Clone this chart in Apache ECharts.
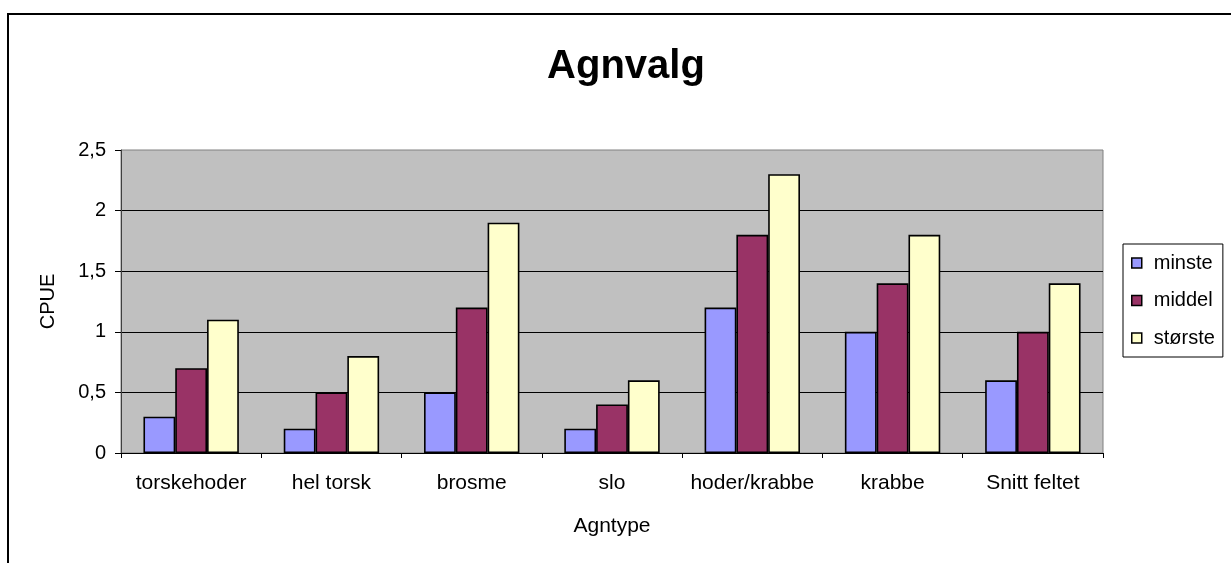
<!DOCTYPE html>
<html>
<head>
<meta charset="utf-8">
<script src="https://cdn.jsdelivr.net/npm/echarts@6/dist/echarts.min.js"></script>
<style>html,body{margin:0;padding:0;background:#fff;}#c{width:1231px;height:563px;}</style>
</head>
<body>
<div id="c"></div>
<script>
var categories = ['torskehoder', 'hel torsk', 'brosme', 'slo', 'hoder/krabbe', 'krabbe', 'Snitt feltet'];
var seriesNames = ['minste', 'middel', 'største'];
var minste = [0.3, 0.2, 0.5, 0.2, 1.2, 1.0, 0.6];
var middel = [0.7, 0.5, 1.2, 0.4, 1.8, 1.4, 1.0];
var storste = [1.1, 0.8, 1.9, 0.6, 2.3, 1.8, 1.4];
var yTickLabels = ['0', '0,5', '1', '1,5', '2', '2,5'];

var colors = ['#9999ff', '#993366', '#ffffcc'];
var font = 'Liberation Sans, Arial, sans-serif';
var chart = echarts.init(document.getElementById('c'), null, {renderer: 'canvas'});

function mkSeries(name, data, color) {
  return {
    name: name, type: 'bar', data: data,
    barGap: '0%', barCategoryGap: '32%',
    itemStyle: {color: color, borderColor: '#000', borderWidth: 1.6},
    emphasis: {disabled: true}
  };
}

chart.setOption({
  animation: false,
  title: {
    text: 'Agnvalg', left: 621, top: 42, textAlign: 'center',
    textStyle: {fontFamily: font, fontSize: 40, fontWeight: 'bold', color: '#000'}
  },
  graphic: [{
    type: 'rect', silent: true, z: -1,
    shape: {x: 8, y: 14, width: 1300, height: 700},
    style: {fill: 'none', stroke: '#000', lineWidth: 2}
  }],
  legend: {
    orient: 'vertical', left: 1123, top: 244,
    padding: [9, 8, 9, 8], itemGap: 17.5,
    itemWidth: 10, itemHeight: 10, icon: 'rect',
    backgroundColor: '#fff', borderColor: '#000', borderWidth: 1, borderRadius: 0,
    itemStyle: {borderColor: '#000', borderWidth: 1.5},
    textStyle: {fontFamily: font, fontSize: 20, color: '#000', padding: [0, 0, 0, 7]},
    data: seriesNames
  },
  grid: {
    left: 121, right: 128, top: 150, bottom: 110,
    show: true, backgroundColor: '#c0c0c0', borderColor: '#808080', borderWidth: 1
  },
  xAxis: {
    type: 'category', data: categories,
    name: 'Agntype', nameLocation: 'middle', nameGap: 63,
    nameTextStyle: {fontFamily: font, fontSize: 21, color: '#000'},
    axisLine: {lineStyle: {color: '#000', width: 1}},
    axisTick: {show: true, length: 5, lineStyle: {color: '#000'}},
    axisLabel: {fontFamily: font, fontSize: 21, color: '#000', margin: 20, interval: 0}
  },
  yAxis: {
    type: 'value', min: 0, max: 2.5, interval: 0.5,
    name: 'CPUE', nameLocation: 'middle', nameGap: 63, nameRotate: 90,
    nameTextStyle: {fontFamily: font, fontSize: 20, color: '#000'},
    axisLine: {show: true, lineStyle: {color: '#404040', width: 1}},
    axisTick: {show: true, length: 6, lineStyle: {color: '#000'}},
    axisLabel: {
      fontFamily: font, fontSize: 20, color: '#000', margin: 15,
      formatter: function (v) { return yTickLabels[Math.round(v / 0.5)]; }
    },
    splitLine: {show: true, showMinLine: false, showMaxLine: false, lineStyle: {color: '#000', width: 1}}
  },
  series: [
    mkSeries(seriesNames[0], minste, colors[0]),
    mkSeries(seriesNames[1], middel, colors[1]),
    mkSeries(seriesNames[2], storste, colors[2])
  ]
});
</script>
</body>
</html>
